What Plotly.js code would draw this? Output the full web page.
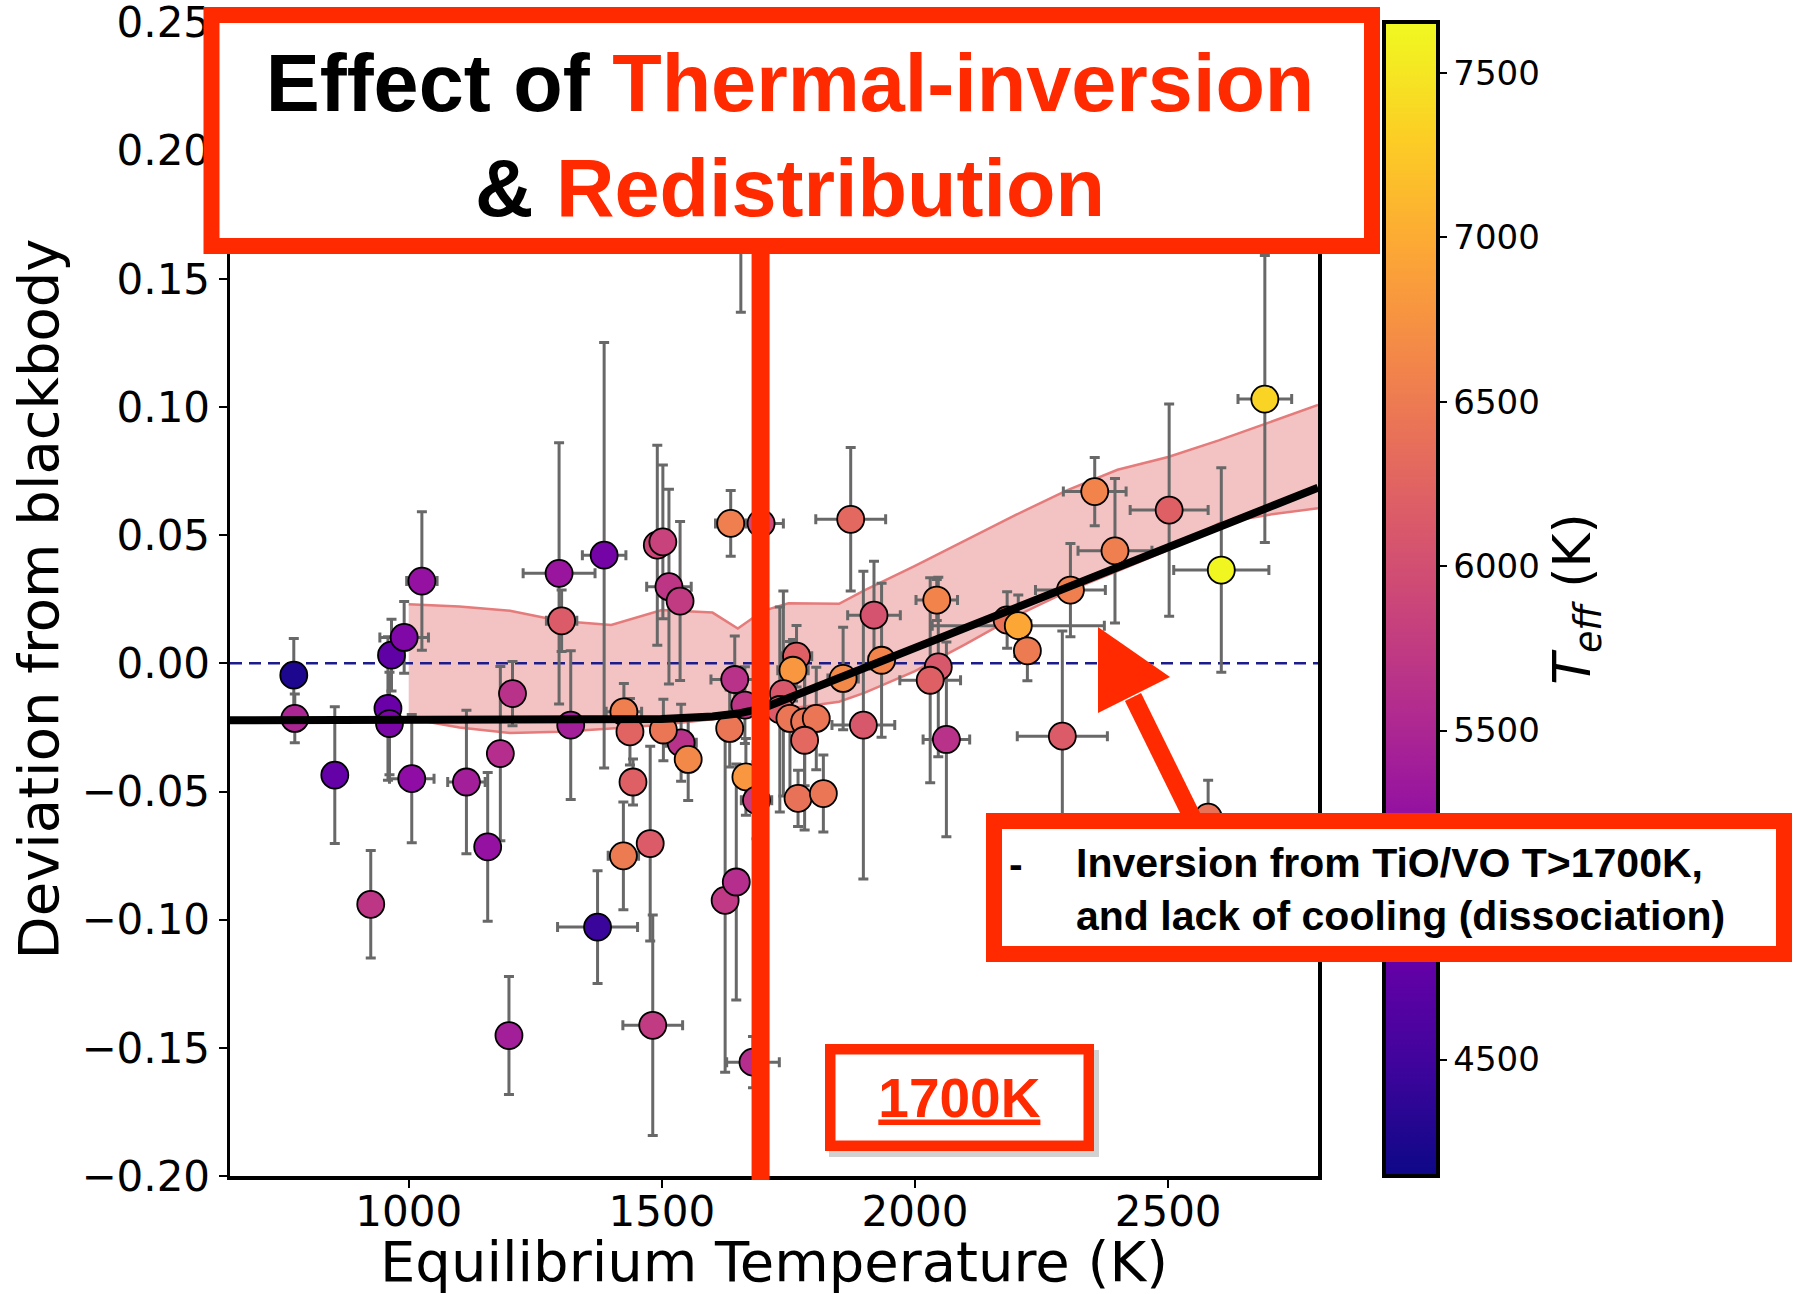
<!DOCTYPE html>
<html>
<head>
<meta charset="utf-8">
<script src="https://cdn.plot.ly/plotly-3.0.1.min.js"></script>
<style>html,body{margin:0;padding:0;background:#fff;}</style>
</head>
<body>
<div id="chart" style="width:1796px;height:1294px;"></div>
<script>
// ---- data ----
const teq = [773,775,854,925,966,991,1026,959,962,1006,1114,1156,1181,1205,1198,1297,1302,1386,1320,1373,1425,1437,1424,1443,1477,1482,1491,1502,1514,1536,1538,1552,1503,1636,1696,1644,1664,1634,1666,1687,1625,1647,1680,1656,1766,1759,1740,1733,1753,1782,1805,1782,1769,1819,1858,1873,1919,1934,1898,2043,2046,2030,2062,2182,2204,2222,2291,2307,2355,2395,2502,2579,2605,2691];
const deviation = [-0.0046,-0.0215,-0.0436,-0.094,0.0032,0.0101,0.0321,-0.0176,-0.0235,-0.045,-0.0463,-0.0716,-0.0352,-0.0118,-0.1452,0.0351,0.0166,0.0422,-0.0241,-0.1029,-0.0189,-0.0267,-0.0751,-0.0463,-0.0703,-0.1412,0.0461,0.0474,0.0299,0.0243,-0.031,-0.0375,-0.026,0.0546,0.0546,-0.0063,-0.0163,-0.0254,-0.0443,-0.0534,-0.0925,-0.0853,-0.1556,0.20,0.0028,-0.0027,-0.0118,-0.018,-0.0215,-0.0228,-0.0215,-0.030,-0.0527,-0.0508,-0.0059,0.0562,0.0188,0.0012,-0.0241,0.0247,-0.0014,-0.0066,-0.0297,0.0169,0.0147,0.0049,-0.0284,0.0286,0.067,0.0439,0.0598,-0.060,0.0364,0.1031];
const teff = [4250,5500,4800,5700,4750,5050,5250,4850,5000,5200,5400,5250,5600,5650,5400,5300,6150,4950,5400,4450,6550,6250,6500,6200,6150,5750,5900,5850,5700,5750,5650,6650,6450,6550,5950,5650,5700,6450,6800,5800,5730,5600,5600,6000,6200,6800,6100,6150,6450,6450,6450,6300,6400,6450,6650,6300,6050,6600,6100,6600,6100,6200,5650,6400,6950,6500,6150,6550,6600,6550,6200,6400,7630,7350];
const devErr = [0.0143,0.0095,0.0267,0.021,0.014,0.014,0.027,0.028,0.02,0.025,0.028,0.029,0.034,0.0125,0.023,0.051,0.012,0.083,0.029,0.022,0.011,0.013,0.021,0.009,0.038,0.043,0.039,0.03,0.038,0.031,0.015,0.016,0.012,0.0128,0.013,0.017,0.015,0.015,0.015,0.015,0.067,0.046,0.01,0.063,0.012,0.012,0.04,0.04,0.03,0.025,0.02,0.035,0.011,0.015,0.02,0.028,0.021,0.03,0.06,0.008,0.035,0.04,0.038,0.011,0.012,0.0117,0.041,0.0182,0.0133,0.0282,0.0414,0.0144,0.0399,0.056];
const teqErr = [0,0,0,0,0,48,30,0,0,44,37,10,0,0,0,71,30,43,0,79,35,0,30,0,0,59,0,0,44,20,30,20,20,30,44,47,20,20,20,30,0,0,52,0,30,30,0,0,0,0,20,0,0,20,30,69,52,25,62,41,0,60,46,0,170,0,89,69,62,73,77,0,94,53];

const bandT = [1000,1100,1200,1300,1400,1500,1600,1650,1700,1750,1850,1900,2000,2100,2200,2300,2400,2500,2600,2700,2796];
const bandUpper = [0.0231,0.0222,0.0205,0.0165,0.015,0.0208,0.0198,0.0136,0.0205,0.0234,0.0232,0.0285,0.038,0.048,0.058,0.0675,0.0755,0.0805,0.087,0.094,0.1008];
const bandLower = [-0.0215,-0.025,-0.0272,-0.0267,-0.0254,-0.024,-0.0218,-0.0205,-0.019,-0.0177,-0.015,-0.0115,-0.003,0.0075,0.0185,0.028,0.036,0.0442,0.0546,0.058,0.0605];

const fitT = [647,1000,1300,1500,1600,1650,1700,1800,2000,2200,2400,2600,2796];
const fitDev = [-0.0222,-0.0222,-0.0222,-0.0217,-0.0207,-0.0196,-0.0175,-0.0097,0.0060,0.0217,0.0374,0.0531,0.0685];

const zeroT = [647,2796];
const zeroDev = [0,0];

const xTicks = [1000,1500,2000,2500];
const yTicks = [-0.20,-0.15,-0.10,-0.05,0.00,0.05,0.10,0.15,0.20,0.25];
const cbTicks = [4500,5500,6000,6500,7000,7500];
const inversionT = 1695;

// ---- styling ----
const RED = '#ff2a00';
const PLASMA = [[0.0,'#0d0887'],[0.1,'#41049d'],[0.2,'#6a00a8'],[0.3,'#8f0da4'],[0.4,'#b12a90'],[0.5,'#cc4778'],[0.6,'#e16462'],[0.7,'#f2844b'],[0.8,'#fca636'],[0.9,'#fcce25'],[1.0,'#f0f921']];
const PL = 230, PT = 22, PW = 1088, PH = 1154;
const px = v => (v - PL) / PW;
const py = v => (PT + PH - v) / PH;
const BOLD = 'Liberation Sans, Arial, Helvetica, sans-serif';

const traces = [
  {type:'scatter', mode:'lines', x:bandT, y:bandLower, line:{color:'#e57b7b', width:2.5}, hoverinfo:'skip', showlegend:false},
  {type:'scatter', mode:'lines', x:bandT, y:bandUpper, fill:'tonexty', fillcolor:'rgba(220,80,80,0.35)', line:{color:'#e57b7b', width:2.5}, hoverinfo:'skip', showlegend:false},
  {type:'scatter', mode:'lines', x:zeroT, y:zeroDev, line:{color:'#1c1c8c', width:2.5, dash:'12px,7px'}, hoverinfo:'skip', showlegend:false},
  {type:'scatter', mode:'markers', x:teq, y:deviation,
    error_y:{type:'data', array:devErr, color:'#686868', thickness:3, width:5},
    error_x:{type:'data', array:teqErr, color:'#686868', thickness:3, width:5},
    marker:{size:27, color:teff, colorscale:PLASMA, cmin:4146, cmax:7654, line:{color:'black', width:1.8},
      showscale:true,
      colorbar:{x:px(1384), xanchor:'left', y:0.5, yanchor:'middle', len:1, lenmode:'fraction',
        thickness:54, thicknessmode:'pixels', outlinewidth:4, outlinecolor:'black', xpad:0, ypad:0,
        tickvals:cbTicks, ticks:'outside', ticklen:7, tickwidth:2, tickcolor:'black',
        tickfont:{family:'DejaVu Sans', size:34, color:'black'},
        title:{text:'<i>T</i><sub><i>eff</i></sub> (K)', side:'right', font:{family:'DejaVu Sans', size:52, color:'black'}}}},
    hoverinfo:'skip', showlegend:false},
  {type:'scatter', mode:'lines', x:fitT, y:fitDev, line:{color:'black', width:8}, hoverinfo:'skip', showlegend:false}
];

const layout = {
  width:1796, height:1294,
  margin:{l:PL, r:1796-PL-PW, t:PT, b:1294-PT-PH, autoexpand:false},
  paper_bgcolor:'white', plot_bgcolor:'white', showlegend:false,
  font:{family:'DejaVu Sans', color:'black'},
  title:{text:'<b>Effect of <span style="color:'+RED+'">Thermal-inversion</span><br>&amp; <span style="color:'+RED+'">Redistribution</span></b>',
    font:{family:BOLD, size:81, color:'black'}, xref:'container', x:790/1796, xanchor:'center', yref:'container', y:1-111/1294, yanchor:'top'},
  xaxis:{range:[647,2796], tickvals:xTicks, ticks:'outside', ticklen:8, tickwidth:2, tickcolor:'black', ticklabelstandoff:-12,
    showline:true, linewidth:3.5, linecolor:'black', mirror:true, showgrid:false, zeroline:false,
    tickfont:{size:42}, title:{text:'Equilibrium Temperature (K)', font:{size:56}, standoff:23}},
  yaxis:{range:[-0.2,0.2502], tickvals:yTicks, tickformat:'.2f', ticks:'outside', ticklen:8, tickwidth:2, tickcolor:'black',
    ticklabeloverflow:'allow',
    showline:true, linewidth:3.5, linecolor:'black', mirror:true, showgrid:false, zeroline:false,
    tickfont:{size:42}, title:{text:'Deviation from blackbody', font:{size:56}, standoff:6}},
  shapes:[
    {type:'line', xref:'x', yref:'paper', x0:inversionT, x1:inversionT, y0:py(1180), y1:py(246), line:{color:RED, width:18}, layer:'above'},
    {type:'rect', xref:'paper', yref:'paper', x0:px(211.5), x1:px(1372), y0:py(246), y1:py(15), fillcolor:'white', line:{color:RED, width:16}, layer:'above'},
    {type:'line', xref:'paper', yref:'paper', x0:px(1196), y0:py(825), x1:px(1133), y1:py(697), line:{color:RED, width:18}, layer:'above'},
    {type:'path', xref:'paper', yref:'paper', path:'M '+px(1098)+' '+py(627)+' L '+px(1170)+' '+py(677)+' L '+px(1098)+' '+py(713)+' Z', fillcolor:RED, line:{width:0}, layer:'above'},
    {type:'rect', xref:'paper', yref:'paper', x0:px(829), x1:px(1099), y0:py(1157), y1:py(1050), fillcolor:'rgba(0,0,0,0.18)', line:{width:0}, layer:'above'}
  ],
  annotations:[
    {xref:'paper', yref:'paper', x:px(985.6), y:py(813.3), xanchor:'left', yanchor:'top', text:'&nbsp;', showarrow:false,
      width:774, height:117, bgcolor:'white', bordercolor:RED, borderwidth:16, borderpad:0},
    {xref:'paper', yref:'paper', x:px(1016), y:py(864), xanchor:'center', yanchor:'middle', text:'<b>-</b>', showarrow:false,
      font:{family:BOLD, size:41, color:'black'}},
    {xref:'paper', yref:'paper', x:px(1074), y:py(889), xanchor:'left', yanchor:'middle', align:'left', showarrow:false,
      text:'<b>Inversion from TiO/VO T&gt;1700K,<br>and lack of cooling (dissociation)</b>',
      font:{family:BOLD, size:41, color:'black'}},
    {xref:'paper', yref:'paper', x:px(824.5), y:py(1044.3), xanchor:'left', yanchor:'top', showarrow:false,
      text:'<b><u>1700K</u></b>', width:248, height:86, bgcolor:'white', bordercolor:RED, borderwidth:10.5, borderpad:0,
      font:{family:BOLD, size:55, color:RED}}
  ]
};

Plotly.newPlot('chart', traces, layout, {displayModeBar:false, staticPlot:true});
</script>
</body>
</html>
